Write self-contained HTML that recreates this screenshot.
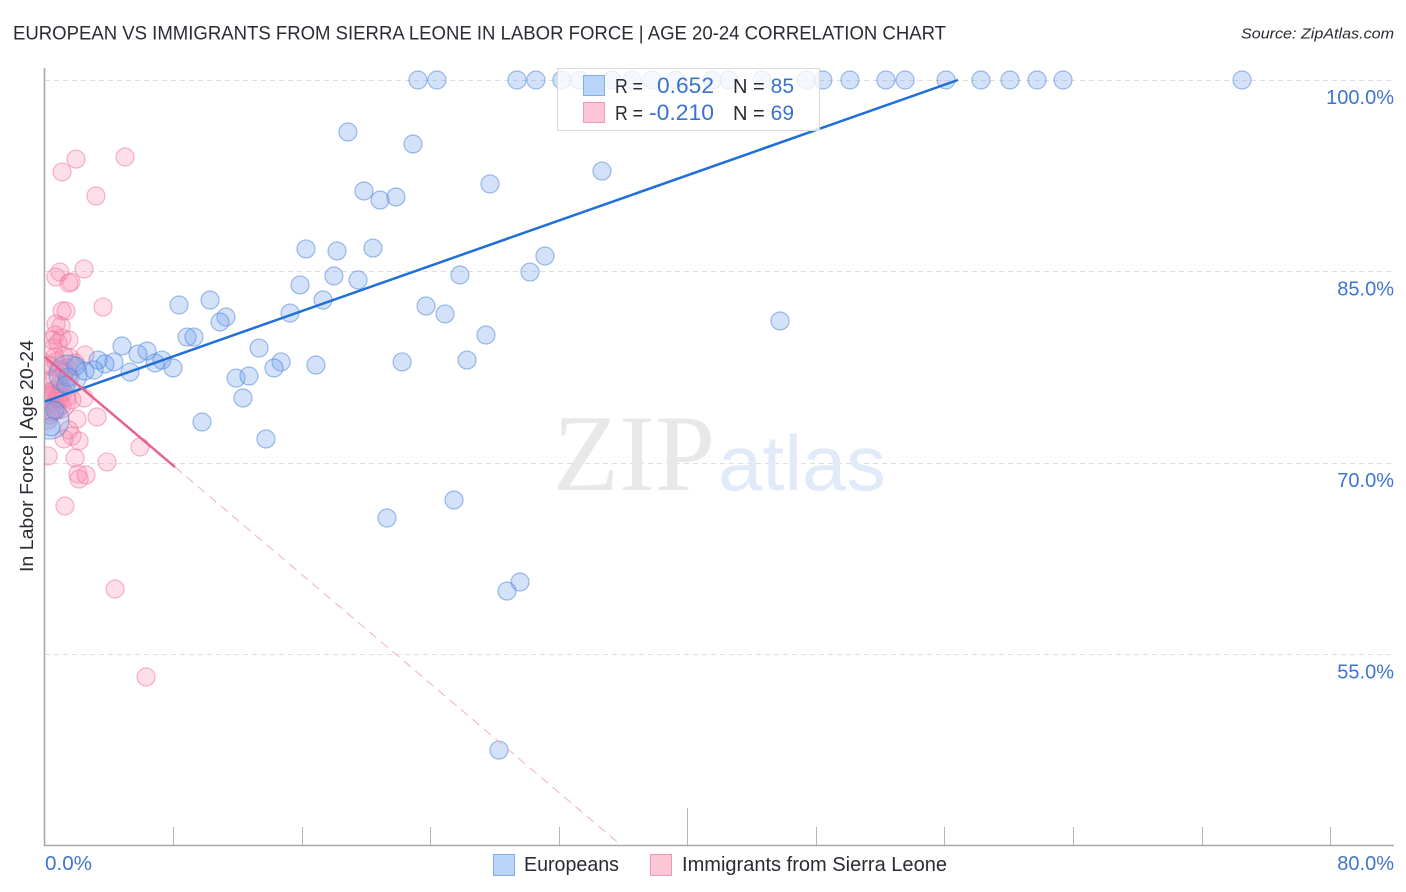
<!DOCTYPE html>
<html lang="en">
<head>
<meta charset="utf-8">
<title>European vs Immigrants from Sierra Leone in Labor Force | Age 20-24 Correlation Chart</title>
<style>
html,body{margin:0;padding:0;background:#fff;}
body{width:1406px;height:892px;overflow:hidden;}
svg{display:block;font-family:"Liberation Sans",sans-serif;}
</style>
</head>
<body>
<svg id="chart" width="1406" height="892" viewBox="0 0 1406 892" xmlns="http://www.w3.org/2000/svg">
  <defs>
    <clipPath id="plot-clip"><rect x="45" y="60" width="1350" height="786"/></clipPath>
  </defs>
  <text x="13" y="39.5" font-size="19.5" fill="#2b2b33" textLength="933" lengthAdjust="spacingAndGlyphs">EUROPEAN VS IMMIGRANTS FROM SIERRA LEONE IN LABOR FORCE | AGE 20-24 CORRELATION CHART</text>
  <text x="1394" y="38.5" font-size="15" font-style="italic" fill="#2b2b33" text-anchor="end" textLength="153" lengthAdjust="spacingAndGlyphs">Source: ZipAtlas.com</text>
  <g id="grid"></g>
  <g>
    <text x="553" y="490" font-family="'Liberation Serif',serif" font-size="109" fill="#e8e8e8" textLength="162" lengthAdjust="spacingAndGlyphs">ZIP</text>
    <text x="718" y="490" font-size="78" fill="#e1eaf8" textLength="168" lengthAdjust="spacingAndGlyphs">atlas</text>
  </g>
  <g id="axes"></g>
  <g id="points" clip-path="url(#plot-clip)"></g>
  <g id="trends"></g>
  <g id="labels"></g>
  <text transform="translate(33,456) rotate(-90)" font-size="18.5" fill="#2b2b33" text-anchor="middle" textLength="232" lengthAdjust="spacingAndGlyphs">In Labor Force | Age 20-24</text>

  <g>
    <rect x="557.5" y="68.5" width="262" height="62" fill="#ffffff" fill-opacity="0.78" stroke="#d9d9d9"/>
    <rect x="583.5" y="75.5" width="21" height="20" fill="#b9d4f7" stroke="#85ade6"/>
    <rect x="583.5" y="102.5" width="21" height="20" fill="#fcc6d6" stroke="#f09ab5"/>
    <text x="615" y="93" font-size="20" fill="#2b2b33" textLength="28" lengthAdjust="spacingAndGlyphs">R =</text>
    <text x="714" y="93" font-size="22" fill="#3a72cf" text-anchor="end" textLength="57" lengthAdjust="spacingAndGlyphs">0.652</text>
    <text x="733" y="93" font-size="20" fill="#2b2b33">N =</text>
    <text x="794" y="93" font-size="21" fill="#3a72cf" text-anchor="end">85</text>
    <text x="615" y="120" font-size="20" fill="#2b2b33" textLength="28" lengthAdjust="spacingAndGlyphs">R =</text>
    <text x="714" y="120" font-size="22" fill="#3a72cf" text-anchor="end" textLength="65" lengthAdjust="spacingAndGlyphs">-0.210</text>
    <text x="733" y="120" font-size="20" fill="#2b2b33">N =</text>
    <text x="794" y="120" font-size="21" fill="#3a72cf" text-anchor="end">69</text>
  </g>

  <g>
    <rect x="493.5" y="854.5" width="21" height="21" fill="#b9d4f7" stroke="#85ade6"/>
    <text x="524" y="871" font-size="20" fill="#2b2b33" textLength="95" lengthAdjust="spacingAndGlyphs">Europeans</text>
    <rect x="650.5" y="854.5" width="21" height="21" fill="#fcc6d6" stroke="#f09ab5"/>
    <text x="682" y="871" font-size="20" fill="#2b2b33" textLength="265" lengthAdjust="spacingAndGlyphs">Immigrants from Sierra Leone</text>
  </g>
</svg>
<script>
const yTicks = [100, 85, 70, 55];
const yTickLabels = ["100.0%", "85.0%", "70.0%", "55.0%"];
const xTicks = [0, 8, 16, 24, 32, 40, 48, 56, 64, 72, 80];
const xMajorTicks = [40];
const xEdgeLabels = ["0.0%", "80.0%"];

const europeanX = [23.21,24.39,29.37,30.55,32.17,33.23,35.28,36.53,37.77,39.27,41.51,42.56,44.62,47.36,48.41,50.09,52.33,53.52,56.07,58.24,60.05,61.73,63.35,74.49,
18.85,22.90,34.66,27.69,19.85,20.85,21.84,16.24,18.17,20.41,31.11,25.82,17.98,19.48,30.18,15.87,17.30,8.34,10.27,15.25,11.26,10.89,23.71,24.89,45.74,27.44,8.84,9.27,13.32,4.79,6.35,5.79,7.28,6.85,3.30,4.29,3.73,7.97,5.29,14.69,14.25,16.86,22.22,26.26,11.89,12.69,12.32,9.77,13.75,25.45,21.28,29.56,28.75,28.25,
3.05,2.49,1.93,1.43,1.31,0.62,0.37];
const europeanY = [100,100,100,100,100,100,100,100,100,100,100,100,100,100,100,100,100,100,100,100,100,100,100,100,
95.93,94.99,92.87,91.86,91.31,90.60,90.84,86.77,86.61,86.84,86.22,84.73,84.65,84.34,84.96,83.95,82.77,82.38,82.77,81.75,81.44,81.05,82.30,81.68,81.13,80.03,79.87,79.87,79.01,79.17,78.78,78.54,78.07,77.84,78.07,77.92,77.76,77.45,77.13,77.92,77.45,77.68,77.92,78.07,76.66,76.82,75.10,73.22,71.89,67.11,65.70,60.69,59.98,47.53,
77.29,77.21,77.60,76.74,76.12,74.16,72.83];
const europeanLargeX = [1.43, 0.31];
const europeanLargeY = [76.97, 73.37];

const sierraLeoneX = [1.93,4.98,1.06,3.17,0.93,2.43,0.68,1.62,1.49,3.61,1.06,1.31,0.68,1.00,0.62,0.44,1.06,1.49,0.81,0.50,0.62,1.18,2.49,1.56,0.44,0.93,1.37,1.87,0.62,0.19,0.93,1.56,0.31,0.81,1.31,2.43,0.62,0.25,1.06,0.31,0.75,1.99,3.24,1.49,1.18,1.68,2.12,0.19,1.87,3.86,5.91,2.05,2.55,2.12,1.24,4.36,6.29,0.93,0.44,0.62,1.12,0.12,0.44,0.81,1.24,0.68,0.31,0.19,1.68];
const sierraLeoneY = [93.81,93.97,92.80,90.92,84.96,85.20,84.57,84.18,84.10,82.22,81.91,81.91,80.89,80.74,80.03,79.64,79.80,79.64,79.40,79.01,78.31,78.39,78.47,78.23,77.53,77.29,77.45,77.84,76.66,77.68,76.12,76.66,75.57,75.49,75.10,75.10,74.78,74.94,74.55,73.77,74.16,73.45,73.61,72.59,71.89,72.12,71.73,70.56,70.40,70.09,71.26,69.15,69.07,68.75,66.64,60.14,53.25,75.02,75.33,75.72,75.57,75.33,74.00,75.10,77.13,77.92,76.51,73.37,74.94];
const sierraLeoneLargeX = [0.75];
const sierraLeoneLargeY = [74.94];

const europeanTrendX = [0, 56.81];
const europeanTrendY = [74.82, 100];
const sierraLeoneTrendX = [0, 8.09];
const sierraLeoneTrendY = [78.31, 69.69];
const sierraLeoneDashX = [8.09, 35.9];
const sierraLeoneDashY = [69.69, 40.02];

const NS = "http://www.w3.org/2000/svg";
function xScale(v){ return 45 + v * 16.07; }
function yScale(v){ return 80 + (100 - v) * 12.77; }
function mk(tag, attrs, parent){
  const el = document.createElementNS(NS, tag);
  for (const k in attrs) el.setAttribute(k, attrs[k]);
  parent.appendChild(el);
  return el;
}

const grid = document.getElementById("grid");
const axes = document.getElementById("axes");
const labels = document.getElementById("labels");
const points = document.getElementById("points");
const trends = document.getElementById("trends");

yTicks.forEach(function(v, i){
  const y = Math.floor(yScale(v)) + 0.5;
  const line = mk("line", {x1:45, x2:1394, y1:y, y2:y, stroke:"#dedede", "stroke-width":1, "stroke-dasharray":"5 4"}, grid);
  
  
  const t = mk("text", {x:1394, y:yScale(v) + 24, "font-size":20, fill:"#3f75d2", "text-anchor":"end"}, labels);
  
  
  t.textContent = yTickLabels[i];
});

const yAxis = mk("line", {x1:44.5, x2:44.5, y1:68, y2:846, stroke:"#a8a8a8", "stroke-width":1.6}, axes);


const xAxis = mk("line", {x1:44, x2:1394, y1:845.5, y2:845.5, stroke:"#a8a8a8", "stroke-width":1.6}, axes);



xTicks.slice(1).forEach(function(v){
  const x = Math.floor(xScale(v)) + 0.5;
  const top = xMajorTicks.indexOf(v) >= 0 ? 808 : 827;
  const tick = mk("line", {x1:x, x2:x, y1:top, y2:845, stroke:"#b5b5b5", "stroke-width":1}, axes);
  
  
});

const x0Label = mk("text", {x:xScale(xTicks[0]), y:870, "font-size":20, fill:"#3f75d2", textLength:47, lengthAdjust:"spacingAndGlyphs"}, labels);


x0Label.textContent = xEdgeLabels[0];
const x1Label = mk("text", {x:1394, y:870, "font-size":20, fill:"#3f75d2", "text-anchor":"end"}, labels);


x1Label.textContent = xEdgeLabels[1];

function drawSeries(xs, ys, r, fill, stroke, name){
  xs.forEach(function(x, i){
    const c = mk("circle", {cx:xScale(x), cy:yScale(ys[i]), r:r, fill:fill, stroke:stroke, "stroke-width":1.2}, points);
    
    
  });
}
const blueFill = "rgba(110,160,235,0.3)";
const blueStroke = "rgba(80,135,220,0.55)";
const pinkFill = "rgba(250,140,175,0.28)";
const pinkStroke = "rgba(238,120,158,0.55)";
drawSeries(sierraLeoneLargeX, sierraLeoneLargeY, 19, pinkFill, pinkStroke, "sierra-leone-point-large");
drawSeries(sierraLeoneX, sierraLeoneY, 9, pinkFill, pinkStroke, "sierra-leone-point");
drawSeries(europeanLargeX, europeanLargeY, 19, blueFill, blueStroke, "european-point-large");
drawSeries(europeanX, europeanY, 9, blueFill, blueStroke, "european-point");

const blueLine = mk("line", {x1:xScale(europeanTrendX[0]), y1:yScale(europeanTrendY[0]), x2:xScale(europeanTrendX[1]), y2:yScale(europeanTrendY[1]), stroke:"#1f6fd8", "stroke-width":2.5}, trends);


const pinkLine = mk("line", {x1:xScale(sierraLeoneTrendX[0]), y1:yScale(sierraLeoneTrendY[0]), x2:xScale(sierraLeoneTrendX[1]), y2:yScale(sierraLeoneTrendY[1]), stroke:"#e8628f", "stroke-width":2.5}, trends);


const pinkDash = mk("line", {x1:xScale(sierraLeoneDashX[0]), y1:yScale(sierraLeoneDashY[0]), x2:xScale(sierraLeoneDashX[1]), y2:yScale(sierraLeoneDashY[1]), stroke:"#f0b0c4", "stroke-width":1, "stroke-dasharray":"9 6"}, trends);


</script>
</body>
</html>
